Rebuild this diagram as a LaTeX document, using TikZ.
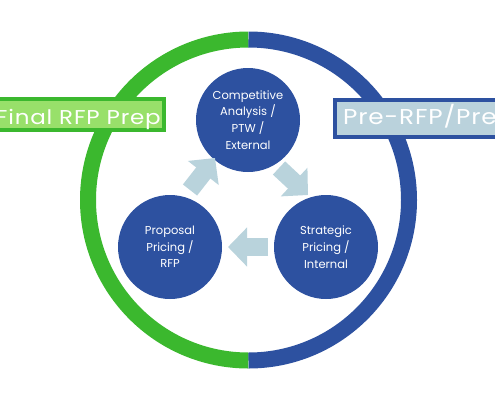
\documentclass[tikz,border=0pt]{standalone}
\usepackage{fontspec}
\setmainfont{Poppins}
\newfontfamily\widefont[FakeStretch=1.15, LetterSpace=4]{Poppins}
\usetikzlibrary{arrows.meta,calc}
\definecolor{ringgreen}{RGB}{59,184,46}
\definecolor{ringblue}{RGB}{45,81,160}
\definecolor{boxgreen}{RGB}{152,224,106}
\definecolor{boxblue}{RGB}{186,210,220}
\definecolor{arrowc}{RGB}{185,211,220}
\begin{document}
\begin{tikzpicture}[x=1pt,y=-1pt,
  ring/.style={line width=16pt},
  stage/.style={circle, fill=ringblue, minimum size=104pt, inner sep=0pt, text=white, align=center, font=\fontsize{11.5}{16.7}\selectfont},
  flow/.style={draw=arrowc, line width=18pt, -{Triangle[length=19pt,width=38pt]}},
  phasebox/.style={line width=4pt},
  phasetext/.style={text=white, inner sep=0pt}]
\useasboundingbox (0,0) rectangle (495,400);
\clip (0,0) rectangle (495,400);
% outer ring
\coordinate (C) at (248.5,200);
\draw[ring, ringgreen] (C) ++(0,-160.5) arc[start angle=-90, end angle=-270, radius=160.5];
\draw[ring, ringblue] (C) ++(0,-160.5) arc[start angle=-90, end angle=90, radius=160.5];
% phase boxes
\draw[phasebox, draw=ringgreen, fill=boxgreen] (-10,99) rectangle (164,130);
\node[phasetext, anchor=base east, font=\widefont\fontsize{20}{24}\selectfont] (lt) at (161,124) {Final RFP Prep};
\draw[phasebox, draw=ringblue, fill=boxblue] (335,100) rectangle (510,137);
\node[phasetext, anchor=base west, font=\widefont\fontsize{21.5}{26}\selectfont] (rt) at (343,124) {Pre-RFP/Pre-Proposal};
% stages
\node[stage] (T) at (248,120) {Competitive\\Analysis /\\PTW /\\External};
\node[stage] (L) at (170,247) {Proposal\\Pricing /\\RFP};
\node[stage] (R) at (326,247) {Strategic\\Pricing /\\Internal};
% flow arrows
\draw[flow] ($(L.center)+(20,-57)$) -- ($(T.center)+(-33,38)$);
\draw[flow] ($(T.center)+(31,48)$) -- ($(R.center)+(-18,-52)$);
\draw[flow] ($(R.center)+(-58,0)$) -- ($(L.center)+(58,0)$);
\end{tikzpicture}
\end{document}
